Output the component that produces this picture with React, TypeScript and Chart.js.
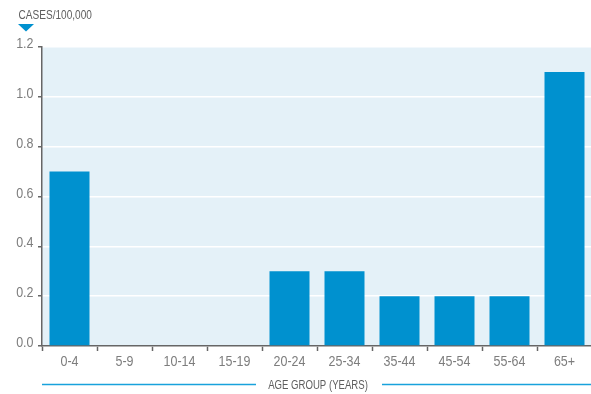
import React, { useEffect, useRef } from "react";
import { Chart, registerables } from "chart.js";

Chart.register(...registerables);

const ageGroups = ["0-4", "5-9", "10-14", "15-19", "20-24", "25-34", "35-44", "45-54", "55-64", "65+"];
const casesPer100k = [0.7, 0, 0, 0, 0.3, 0.3, 0.2, 0.2, 0.2, 1.1];
const yTicks = [0, 0.2, 0.4, 0.6, 0.8, 1.0, 1.2];

const FONT = "'Liberation Sans', Arial, sans-serif";
const BLUE = "#0091cf";
const LINE_BLUE = "#19a2dc";
const PANEL = "#e4f1f8";
const TICK_TEXT = "#7d7d7d";

const W = 600;
const H = 394;

// draws horizontally condensed text
function drawText(
  ctx: CanvasRenderingContext2D,
  text: string,
  x: number,
  y: number,
  align: CanvasTextAlign,
  size: number,
  color: string,
  squeeze: number
) {
  ctx.save();
  ctx.translate(x, y);
  ctx.scale(squeeze, 1);
  ctx.font = `${size}px ${FONT}`;
  ctx.fillStyle = color;
  ctx.textAlign = align;
  ctx.textBaseline = "middle";
  ctx.fillText(text, 0, 0);
  ctx.restore();
}

const decorations = {
  id: "decorations",
  beforeDraw(chart: any) {
    const { ctx, chartArea } = chart;
    ctx.save();
    ctx.fillStyle = PANEL;
    ctx.fillRect(chartArea.left, chartArea.top, chartArea.right - chartArea.left, chartArea.bottom - chartArea.top);
    ctx.restore();
  },
  afterDraw(chart: any) {
    const { ctx } = chart;
    const xs = chart.scales.x;
    const ys = chart.scales.y;

    // tick labels
    ageGroups.forEach((label, i) => {
      drawText(ctx, label, xs.getPixelForValue(i), 362, "center", 14.5, TICK_TEXT, 0.86);
    });
    yTicks.forEach((v) => {
      drawText(ctx, v.toFixed(1), 33.5, ys.getPixelForValue(v) - 3, "right", 14.5, TICK_TEXT, 0.86);
    });

    // unit label and marker
    drawText(ctx, "CASES/100,000", 18.5, 15.5, "left", 12, "#5e5e5e", 0.84);
    ctx.save();
    ctx.fillStyle = BLUE;
    ctx.beginPath();
    ctx.moveTo(18, 24);
    ctx.lineTo(34, 24);
    ctx.lineTo(26, 31.5);
    ctx.closePath();
    ctx.fill();

    // axis title with rules either side
    ctx.strokeStyle = LINE_BLUE;
    ctx.lineWidth = 1.5;
    ctx.beginPath();
    ctx.moveTo(42, 384.5);
    ctx.lineTo(256, 384.5);
    ctx.moveTo(382, 384.5);
    ctx.lineTo(W, 384.5);
    ctx.stroke();
    ctx.restore();
    drawText(ctx, "AGE GROUP (YEARS)", 318, 385.5, "center", 12, "#5e5e5e", 0.8);
  },
};

export default function App() {
  const ref = useRef<HTMLCanvasElement>(null);

  useEffect(() => {
    const chart = new Chart(ref.current!, {
      type: "bar",
      data: {
        labels: ageGroups,
        datasets: [
          {
            data: casesPer100k,
            backgroundColor: BLUE,
            borderWidth: 0,
            categoryPercentage: 1,
            barPercentage: 40 / 55,
          },
        ],
      },
      options: {
        animation: false,
        responsive: false,
        devicePixelRatio: 1,
        layout: { padding: { top: 47, right: 8, bottom: 0, left: 0 } },
        plugins: { legend: { display: false }, tooltip: { enabled: false } },
        scales: {
          x: {
            offset: true,
            grid: {
              offset: true,
              drawOnChartArea: false,
              tickLength: 5,
              tickColor: "#666",
              tickWidth: 1.5,
            },
            border: { display: true, color: "#666", width: 1.5 },
            ticks: {
              color: "rgba(0,0,0,0)",
              font: { family: FONT, size: 14 },
              padding: 4,
              maxRotation: 0,
              autoSkip: false,
            },
            afterFit(scale: any) {
              scale.height = 48;
            },
          },
          y: {
            min: 0,
            max: 1.2,
            afterBuildTicks(scale: any) {
              scale.ticks = yTicks.map((v) => ({ value: v }));
            },
            grid: {
              color: "#ffffff",
              lineWidth: 1.5,
              tickLength: 4,
              tickColor: "#666",
              tickWidth: 1.5,
            },
            border: { display: true, color: "#666", width: 1.5 },
            ticks: {
              color: "rgba(0,0,0,0)",
              font: { family: FONT, size: 14 },
              padding: 5,
              callback: (v: any) => Number(v).toFixed(1),
            },
            afterFit(scale: any) {
              scale.width = 42;
            },
          },
        },
      },
      plugins: [decorations],
    });
    return () => chart.destroy();
  }, []);

  return (
    <div style={{ position: "fixed", left: 0, top: 0, width: 591, height: 394, overflow: "hidden", background: "#fff" }}>
      <canvas ref={ref} width={W} height={H} style={{ display: "block", width: W, height: H }} />
    </div>
  );
}
